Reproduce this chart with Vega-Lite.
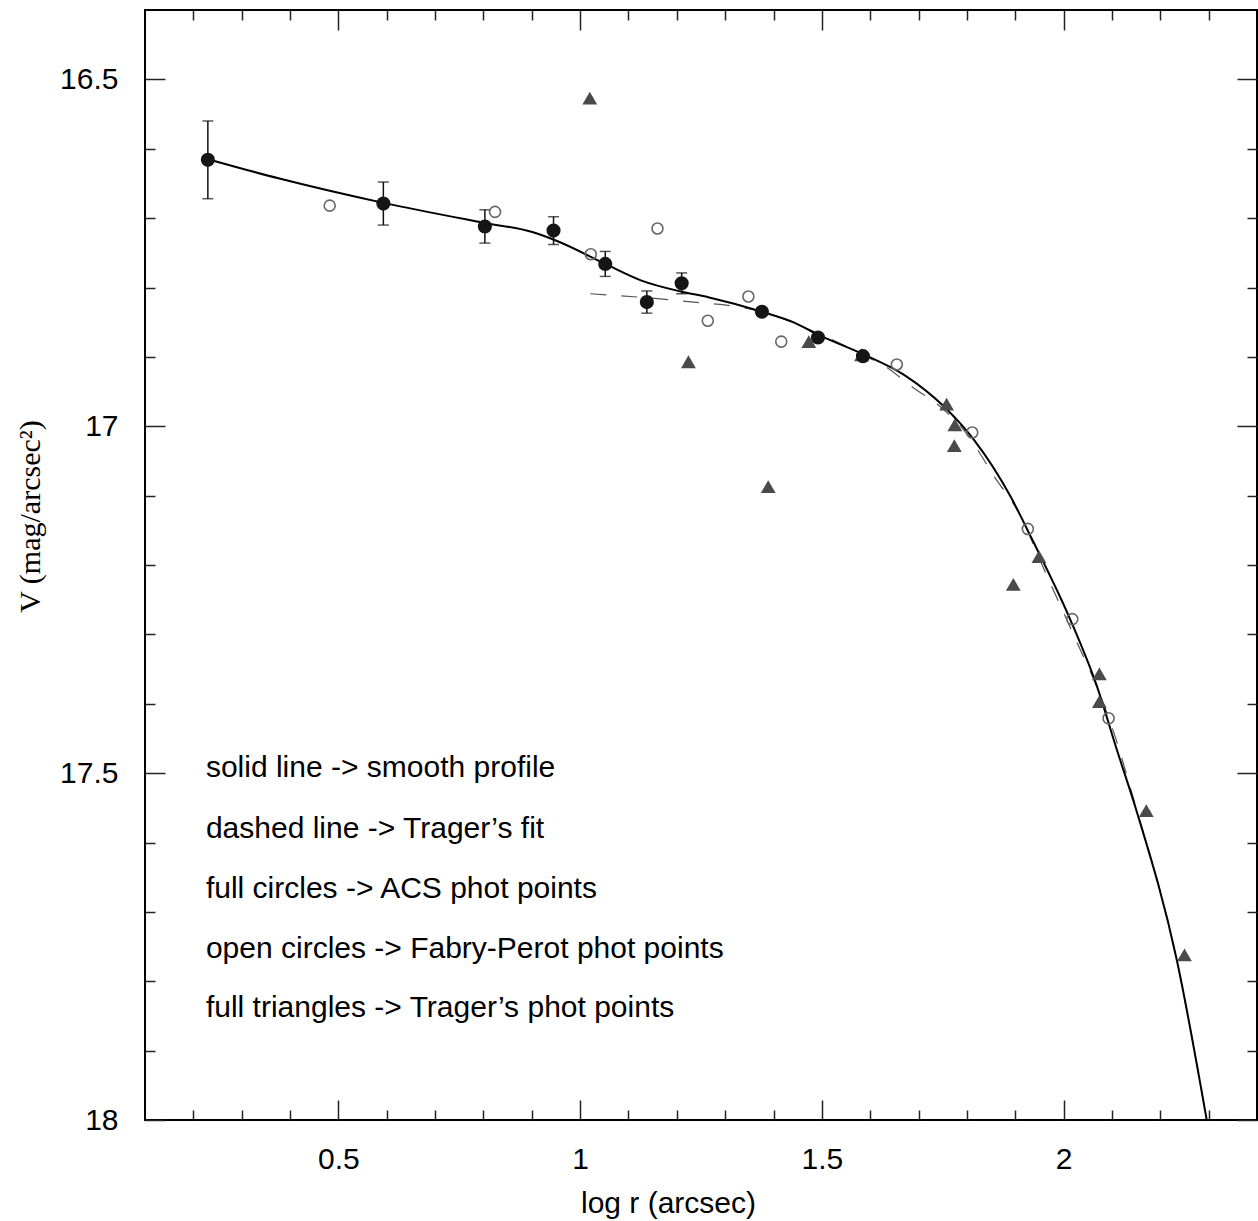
{
  "$schema": "https://vega.github.io/schema/vega-lite/v6.json",
  "autosize": {"type": "none"},
  "padding": {"left": 145, "top": 10, "right": 1, "bottom": 101},
  "width": 1112,
  "height": 1110,
  "background": "white",
  "config": {
    "view": {"stroke": "#000", "strokeWidth": 2},
    "axis": {"grid": false, "domain": false, "labelFont": "Liberation Sans", "labelFontSize": 30, "labelColor": "#000", "titleFont": "Liberation Sans", "titleFontWeight": "normal", "titleColor": "#000", "tickColor": "#222", "tickWidth": 1.5}
  },
  "datasets": {
    "acs": [
      {"x": 0.230, "y": 16.616, "err": 0.056},
      {"x": 0.593, "y": 16.679, "err": 0.031},
      {"x": 0.803, "y": 16.712, "err": 0.024},
      {"x": 0.945, "y": 16.718, "err": 0.020},
      {"x": 1.052, "y": 16.766, "err": 0.018},
      {"x": 1.138, "y": 16.821, "err": 0.016},
      {"x": 1.210, "y": 16.794, "err": 0.015},
      {"x": 1.376, "y": 16.835, "err": 0.005},
      {"x": 1.492, "y": 16.872, "err": 0.004},
      {"x": 1.585, "y": 16.899, "err": 0.003}
    ],
    "fp": [
      {"x": 0.482, "y": 16.682},
      {"x": 0.824, "y": 16.691},
      {"x": 1.022, "y": 16.752},
      {"x": 1.160, "y": 16.715},
      {"x": 1.264, "y": 16.848},
      {"x": 1.348, "y": 16.813},
      {"x": 1.416, "y": 16.878},
      {"x": 1.655, "y": 16.911},
      {"x": 1.811, "y": 17.009},
      {"x": 1.926, "y": 17.148},
      {"x": 2.018, "y": 17.278},
      {"x": 2.093, "y": 17.421}
    ],
    "trager": [
      {"x": 1.020, "y": 16.527},
      {"x": 1.224, "y": 16.907},
      {"x": 1.389, "y": 17.087},
      {"x": 1.473, "y": 16.878},
      {"x": 1.582, "y": 16.897},
      {"x": 1.758, "y": 16.968},
      {"x": 1.775, "y": 16.998},
      {"x": 1.774, "y": 17.028},
      {"x": 1.896, "y": 17.228},
      {"x": 1.949, "y": 17.188},
      {"x": 2.074, "y": 17.357},
      {"x": 2.074, "y": 17.397},
      {"x": 2.171, "y": 17.554},
      {"x": 2.250, "y": 17.762}
    ],
    "smooth": [
      {"x": 0.230, "y": 16.615},
      {"x": 0.378, "y": 16.643},
      {"x": 0.593, "y": 16.678},
      {"x": 0.803, "y": 16.707},
      {"x": 0.901, "y": 16.720},
      {"x": 0.956, "y": 16.734},
      {"x": 1.052, "y": 16.766},
      {"x": 1.127, "y": 16.790},
      {"x": 1.210, "y": 16.806},
      {"x": 1.265, "y": 16.814},
      {"x": 1.376, "y": 16.835},
      {"x": 1.444, "y": 16.851},
      {"x": 1.492, "y": 16.868},
      {"x": 1.585, "y": 16.896},
      {"x": 1.670, "y": 16.926},
      {"x": 1.753, "y": 16.972},
      {"x": 1.815, "y": 17.020},
      {"x": 1.890, "y": 17.101},
      {"x": 1.932, "y": 17.159},
      {"x": 2.014, "y": 17.279},
      {"x": 2.069, "y": 17.375},
      {"x": 2.110, "y": 17.466},
      {"x": 2.152, "y": 17.557},
      {"x": 2.234, "y": 17.769},
      {"x": 2.296, "y": 18.000}
    ],
    "fit": [
      {"x": 1.021, "y": 16.809},
      {"x": 1.203, "y": 16.819},
      {"x": 1.376, "y": 16.835},
      {"x": 1.492, "y": 16.866},
      {"x": 1.585, "y": 16.897},
      {"x": 1.636, "y": 16.916},
      {"x": 1.684, "y": 16.942},
      {"x": 1.745, "y": 16.972},
      {"x": 1.801, "y": 17.012},
      {"x": 1.857, "y": 17.073},
      {"x": 1.910, "y": 17.128},
      {"x": 1.960, "y": 17.207},
      {"x": 2.028, "y": 17.312},
      {"x": 2.069, "y": 17.376},
      {"x": 2.104, "y": 17.442},
      {"x": 2.145, "y": 17.538},
      {"x": 2.234, "y": 17.769},
      {"x": 2.296, "y": 18.000}
    ],
    "notes": [
      {"x": 0.226, "y": 17.492, "label": "solid line -> smooth profile"},
      {"x": 0.226, "y": 17.580, "label": "dashed line -> Trager’s fit"},
      {"x": 0.226, "y": 17.667, "label": "full circles -> ACS phot points"},
      {"x": 0.226, "y": 17.753, "label": "open circles -> Fabry-Perot phot points"},
      {"x": 0.226, "y": 17.839, "label": "full triangles -> Trager’s phot points"}
    ]
  },
  "resolve": {"axis": {"x": "independent", "y": "independent"}},
  "layer": [
    {
      "data": {"name": "fit"},
      "mark": {"type": "line", "color": "#555", "strokeWidth": 1.2, "strokeDash": [16, 15], "clip": true, "interpolate": "monotone"},
      "encoding": {
        "x": {"field": "x", "type": "quantitative", "scale": {"domain": [0.1, 2.4], "nice": false, "zero": false},
          "axis": {"orient": "bottom", "values": [0.5, 1, 1.5, 2], "format": "~g", "tickSize": -20, "labelPadding": 44, "title": "log r (arcsec)", "titleFontSize": 30, "titleX": 523, "titleY": 83, "titleBaseline": "middle"}},
        "y": {"field": "y", "type": "quantitative", "scale": {"domain": [16.4, 18], "nice": false, "zero": false, "reverse": true},
          "axis": {"orient": "left", "values": [16.5, 17, 17.5, 18], "format": "~g", "tickSize": -20, "labelPadding": 47, "title": "V (mag/arcsec²)", "titleFont": "Liberation Serif", "titleFontSize": 30, "titleX": -115, "titleY": 506, "titleBaseline": "middle", "titleAngle": -90}}
      }
    },
    {
      "data": {"name": "smooth"},
      "mark": {"type": "line", "color": "#000", "strokeWidth": 2, "clip": true, "interpolate": "monotone"},
      "encoding": {
        "x": {"field": "x", "type": "quantitative", "axis": {"orient": "bottom", "values": [0.2, 0.3, 0.4, 0.6, 0.7, 0.8, 0.9, 1.1, 1.2, 1.3, 1.4, 1.6, 1.7, 1.8, 1.9, 2.1, 2.2, 2.3], "tickSize": -10, "labels": false, "title": null}},
        "y": {"field": "y", "type": "quantitative", "axis": {"orient": "left", "values": [16.6, 16.7, 16.8, 16.9, 17.1, 17.2, 17.3, 17.4, 17.6, 17.7, 17.8, 17.9], "tickSize": -10, "labels": false, "title": null}}
      }
    },
    {
      "data": {"name": "acs"},
      "mark": {"type": "errorbar", "ticks": {"size": 11, "color": "#111"}, "color": "#111", "thickness": 1.5},
      "encoding": {
        "x": {"field": "x", "type": "quantitative", "axis": null},
        "y": {"field": "y", "type": "quantitative", "axis": null},
        "yError": {"field": "err"}
      }
    },
    {
      "data": {"name": "fp"},
      "mark": {"type": "point", "shape": "circle", "filled": false, "size": 121, "stroke": "#666", "strokeWidth": 1.6, "opacity": 1},
      "encoding": {
        "x": {"field": "x", "type": "quantitative", "axis": {"orient": "top", "values": [0.5, 1, 1.5, 2], "tickSize": -20, "labels": false, "title": null}},
        "y": {"field": "y", "type": "quantitative", "axis": {"orient": "right", "values": [16.5, 17, 17.5, 18], "tickSize": -20, "labels": false, "title": null}}
      }
    },
    {
      "data": {"name": "trager"},
      "mark": {"type": "point", "shape": "triangle-up", "filled": true, "size": 220, "color": "#4a4a4a", "opacity": 1},
      "encoding": {
        "x": {"field": "x", "type": "quantitative", "axis": {"orient": "top", "values": [0.2, 0.3, 0.4, 0.6, 0.7, 0.8, 0.9, 1.1, 1.2, 1.3, 1.4, 1.6, 1.7, 1.8, 1.9, 2.1, 2.2, 2.3], "tickSize": -10, "labels": false, "title": null}},
        "y": {"field": "y", "type": "quantitative", "axis": {"orient": "right", "values": [16.6, 16.7, 16.8, 16.9, 17.1, 17.2, 17.3, 17.4, 17.6, 17.7, 17.8, 17.9], "tickSize": -10, "labels": false, "title": null}}
      }
    },
    {
      "data": {"name": "acs"},
      "mark": {"type": "point", "shape": "circle", "filled": true, "size": 200, "color": "#151515", "opacity": 1},
      "encoding": {
        "x": {"field": "x", "type": "quantitative", "axis": null},
        "y": {"field": "y", "type": "quantitative", "axis": null}
      }
    },
    {
      "data": {"name": "notes"},
      "mark": {"type": "text", "align": "left", "baseline": "middle", "font": "Liberation Sans", "fontSize": 30, "color": "#000"},
      "encoding": {
        "x": {"field": "x", "type": "quantitative", "axis": null},
        "y": {"field": "y", "type": "quantitative", "axis": null},
        "text": {"field": "label"}
      }
    }
  ]
}
